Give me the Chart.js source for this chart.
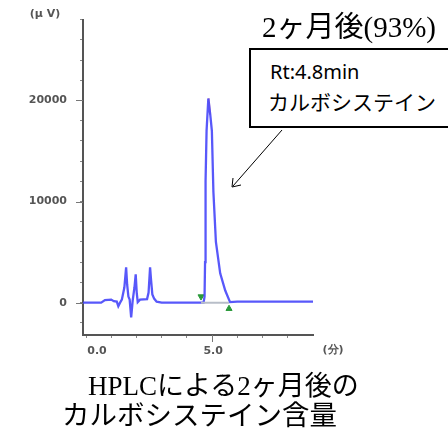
<!DOCTYPE html>
<html>
<head>
<meta charset="utf-8">
<script src="https://cdn.jsdelivr.net/npm/chart.js@4"></script>
<style>
  body { margin: 0; background: #fff; }
  #wrap { position: relative; width: 448px; height: 431px; overflow: hidden; }
  #chart { position: absolute; left: 0; top: 0; }
  .txt { position: absolute; white-space: nowrap; color: #000; }
  #title { left: 262px; top: 3px; font: 29px "Liberation Serif", "Noto Sans CJK JP"; }
  #box { position: absolute; left: 249px; top: 48px; width: 220px; height: 76px; border: 2px solid #000; background: #fff; }
  #box1 { left: 270px; top: 58px; font: 20px "Noto Sans", "Noto Sans CJK JP"; }
  #box2 { left: 268px; top: 86px; font: 21px "Noto Sans CJK JP"; }
  #cap1 { left: 88px; top: 364px; font: 27px "Liberation Serif", "Noto Sans CJK JP"; }
  #cap2 { left: 62px; top: 393px; font: 27.5px "Noto Sans CJK JP"; }
  #arrow { position: absolute; left: 0; top: 0; }
</style>
</head>
<body>
<div id="wrap">
  <canvas id="chart" width="448" height="431"></canvas>
  <div class="txt" id="title">2ヶ月後(93%)</div>
  <div id="box"></div>
  <div class="txt" id="box1">Rt:4.8min</div>
  <div class="txt" id="box2">カルボシステイン</div>
  <svg id="arrow" width="448" height="431">
    <line x1="282" y1="130" x2="233" y2="186" stroke="#000" stroke-width="1"/>
    <polyline points="233,178 232,187 241,185" fill="none" stroke="#000" stroke-width="1"/>
  </svg>
  <div class="txt" id="cap1">HPLCによる2ヶ月後の</div>
  <div class="txt" id="cap2">カルボシステイン含量</div>
</div>
<script>
// retention time (min) and detector signal (µV)
const timeMin = [-0.12, 0.6, 0.75, 1.0, 1.1, 1.22, 1.28, 1.35, 1.42, 1.52, 1.59, 1.63, 1.68, 1.73, 1.79, 1.85,
  1.92, 1.97, 2.01, 2.05, 2.14, 2.42, 2.48, 2.54, 2.58, 2.63, 2.7, 2.8, 3.0, 4.66, 4.70, 4.72, 4.74, 4.78,
  4.85, 4.93, 4.99, 5.05, 5.15, 5.32, 5.52, 5.71, 6.0, 9.0];
const signal = [0, 0, 250, 300, 150, 100, -350, 0, 300, 1500, 3500, 1800, 600, 300, -1450, 200,
  1500, 2800, 1000, 50, 300, 350, 1000, 3500, 2200, 800, 400, 100, 0, 0, 600, 4000, 12000, 17000,
  20200, 18500, 17000, 11000, 6000, 2900, 1200, 50, 100, 100];

// peak start / end markers and the integration baseline
const markerTime = [4.56, 5.67];
const markerSignal = [600, -600];
const baseTime = [4.56, 5.67];
const baseSignal = [0, 0];

// top of main peak (second trace)
const topTime = [4.86, 4.92];
const topSignal = [20200, 18600];

const yTicks = [-2000, 0, 2000, 4000, 6000, 8000, 10000, 12000, 14000, 16000, 18000, 20000, 22000, 24000, 26000, 28000];
const yMajor = [0, 10000, 20000];
const xTicks = [0, 1, 2, 3, 4, 5, 6, 7, 8];
const xMajor = [5];
const xLabels = { 0: '0.0', 5: '5.0' };

const pts = (xs, ys) => xs.map((x, i) => ({ x: x, y: ys[i] }));

const axisText = {
  id: 'axisText',
  afterDraw(chart) {
    const ctx = chart.ctx;
    const xs = chart.scales.x;
    const ys = chart.scales.y;
    const area = chart.chartArea;
    ctx.save();
    // longer marks for the labelled ticks
    ctx.strokeStyle = '#777';
    ctx.lineWidth = 1;
    ctx.beginPath();
    yMajor.forEach(v => {
      const py = Math.round(ys.getPixelForValue(v)) + 0.5;
      ctx.moveTo(area.left - 7, py);
      ctx.lineTo(area.left, py);
    });
    xMajor.forEach(v => {
      const px = Math.round(xs.getPixelForValue(v)) + 0.5;
      ctx.moveTo(px, area.bottom);
      ctx.lineTo(px, area.bottom + 7);
    });
    ctx.stroke();

    ctx.fillStyle = '#555';
    ctx.font = 'bold 11px "DejaVu Sans"';
    ctx.textAlign = 'center';
    ctx.textBaseline = 'middle';
    Object.keys(xLabels).forEach(v => {
      const px = xs.getPixelForValue(Number(v)) + (Number(v) === 0 ? 11 : 1);
      ctx.fillText(xLabels[v], px, 351);
    });
    ctx.fillText('(分)', 333, 350);
    ctx.fillText('(μ V)', 45, 14);
    ctx.restore();
  }
};

new Chart(document.getElementById('chart'), {
  type: 'line',
  data: {
    datasets: [
      {
        data: pts(baseTime, baseSignal),
        borderColor: '#b8bec8',
        borderWidth: 2,
        pointRadius: 0
      },
      {
        data: pts(timeMin, signal),
        borderColor: 'rgba(70, 70, 250, 0.9)',
        borderWidth: 2.3,
        pointRadius: 0,
        tension: 0
      },
      {
        data: pts(topTime, topSignal),
        borderColor: '#f0a0a8',
        borderWidth: 2,
        pointRadius: 0
      },
      {
        type: 'scatter',
        data: pts(markerTime, markerSignal),
        pointStyle: 'triangle',
        rotation: [180, 0],
        pointRadius: 3.5,
        backgroundColor: '#2a9a3a',
        borderColor: '#2a9a3a',
        showLine: false
      }
    ]
  },
  options: {
    responsive: false,
    animation: false,
    layout: { padding: { top: 18, right: 135, left: 0, bottom: 0 } },
    plugins: { legend: { display: false }, tooltip: { enabled: false } },
    scales: {
      x: {
        type: 'linear',
        min: -0.12,
        max: 9,
        afterBuildTicks: s => { s.ticks = xTicks.map(v => ({ value: v })); },
        afterFit: s => { s.height = 96; },
        grid: { drawOnChartArea: false, drawTicks: true, tickLength: 3, color: '#888' },
        border: { color: '#555', width: 2 },
        ticks: { display: false }
      },
      y: {
        min: -3200,
        max: 28000,
        afterBuildTicks: s => { s.ticks = yTicks.map(v => ({ value: v })); },
        afterFit: s => { s.width = 83; },
        grid: { drawOnChartArea: false, drawTicks: true, tickLength: 3, color: '#888' },
        border: { color: '#555', width: 2 },
        ticks: {
          padding: 13,
          color: '#555',
          font: { family: 'DejaVu Sans', size: 11, weight: 'bold' },
          callback: v => (v % 10000 === 0 ? String(v) : '')
        }
      }
    }
  },
  plugins: [axisText]
});
</script>
</body>
</html>
